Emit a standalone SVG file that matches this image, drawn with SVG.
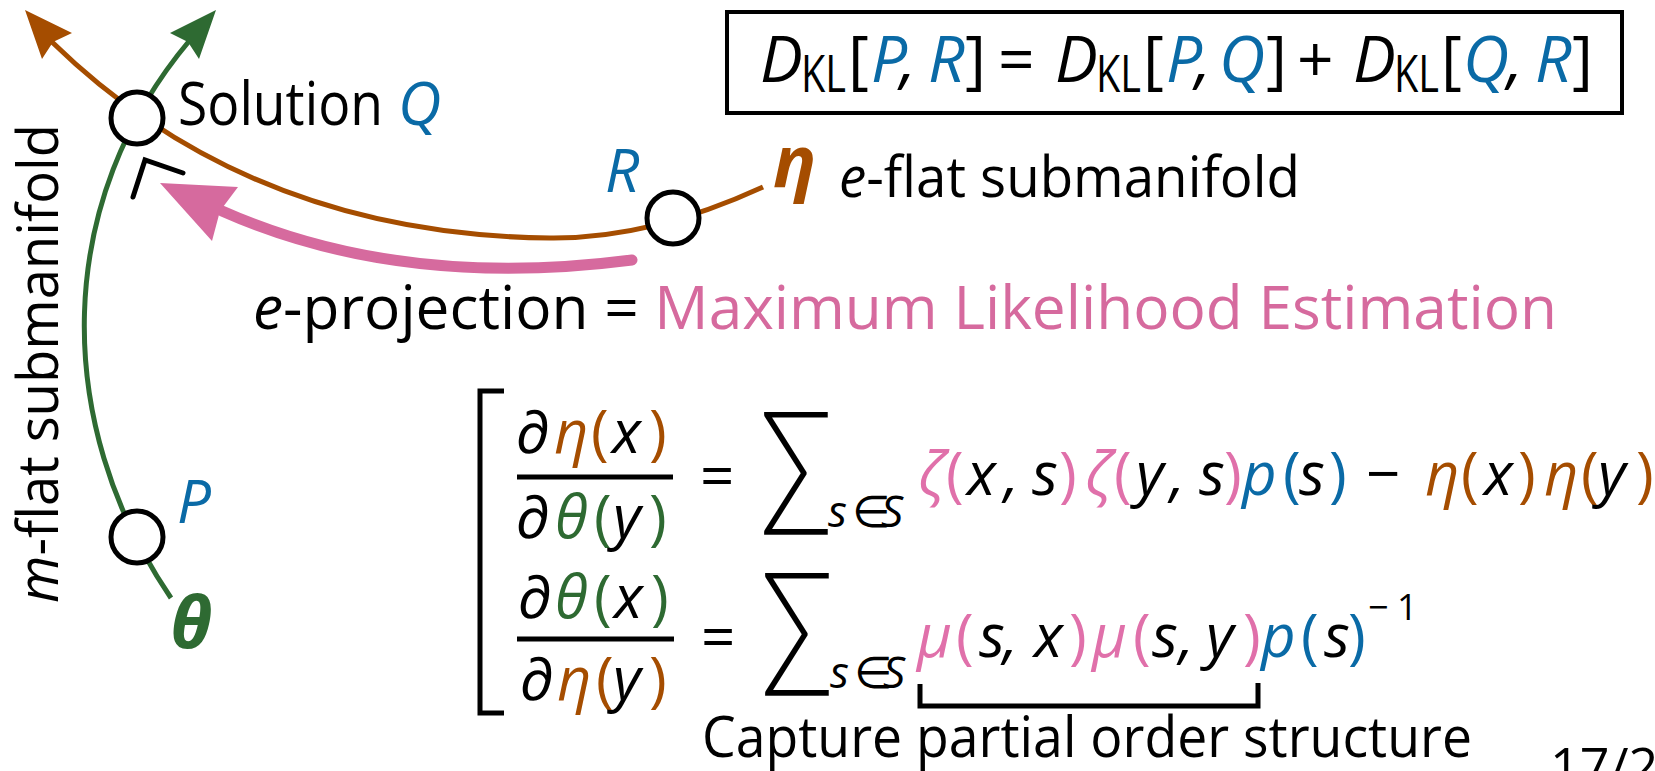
<svg xmlns="http://www.w3.org/2000/svg" width="1655" height="771" viewBox="0 0 1655 771">
<defs>
<style>
text{font-family:"Open Sans","Noto Sans","DejaVu Sans",sans-serif;fill:#000}
.i{font-style:italic}
.b{font-weight:bold}
.blue{fill:#0a6aa6}
.brown{fill:#a54d00}
.green{fill:#2e6a32}
.pink{fill:#e070aa}
.mle{fill:#d66a9e}
.f60{font-size:60px}
.f64{font-size:64px}
.sum{font-family:Lato,"Open Sans","DejaVu Sans",sans-serif;font-weight:300;font-size:139px}
.sub{font-size:44px;font-style:italic}
.ln{fill:none;stroke-width:5}
.node{fill:#fff;stroke:#000;stroke-width:5}
.blk{fill:none;stroke:#000;stroke-width:5}
</style>
</defs>
<rect width="1655" height="771" fill="#fff"/>

<g id="connectors">
  <path id="m-flat-curve" class="ln" stroke="#2e6a32" d="M171,598 C50,420 55,200 190,40"/>
  <polygon fill="#2e6a32" points="216,10 170,33 188,42 199,59"/>
  <path id="e-flat-curve" class="ln" stroke="#a54d00" d="M52,42 Q250,235 550,238 Q650,239 763,187"/>
  <polygon fill="#a54d00" points="25,10 72,33 53,42 42,59"/>
  <path id="e-projection-arrow" fill="none" stroke="#d66a9e" stroke-width="11" stroke-linecap="round" d="M222,211 Q400,290 632,260"/>
  <polygon fill="#d66a9e" points="160,183 238,187 220,211 212,241"/>
  <polyline id="right-angle" class="blk" stroke-linecap="round" points="133,197 145,160 183,173"/>
</g>

<g id="node-Q">
  <circle class="node" cx="137" cy="118" r="26"/>
  <text class="f60" x="178" y="125" font-size="57" textLength="205" lengthAdjust="spacingAndGlyphs">Solution</text>
  <text class="f60 i blue" x="398" y="125">Q</text>
</g>
<g id="node-R">
  <circle class="node" cx="673" cy="218" r="26"/>
  <text class="f60 i blue" x="605" y="192">R</text>
</g>
<g id="node-P">
  <circle class="node" cx="137" cy="537" r="26"/>
  <text class="f60 i blue" x="177" y="523">P</text>
</g>

<g id="labels">
  <text class="b i brown" font-size="72" x="773" y="187">η</text>
  <text font-size="56" x="839" y="197" textLength="461" lengthAdjust="spacingAndGlyphs"><tspan class="i">e</tspan>-flat submanifold</text>
  <text class="b i green" font-size="72" x="170" y="648">θ</text>
  <text font-size="56" transform="translate(58,603) rotate(-90)" x="0" y="0" textLength="479" lengthAdjust="spacingAndGlyphs"><tspan class="i">m</tspan>-flat submanifold</text>
  <text class="f60" x="253" y="329" textLength="1304" lengthAdjust="spacingAndGlyphs"><tspan class="i">e</tspan>-projection = <tspan class="mle">Maximum Likelihood Estimation</tspan></text>
  <text font-size="56" x="702" y="757" textLength="770" lengthAdjust="spacingAndGlyphs">Capture partial order structure</text>
  <text font-size="52" x="1550" y="785">17/20</text>
</g>

<g id="kl-box">
  <rect x="727" y="12" width="895" height="101" fill="none" stroke="#000" stroke-width="4"/>
  <text class="f64" y="82"><tspan class="i" x="760">D</tspan><tspan x="848">[</tspan><tspan class="i blue" x="871">P</tspan><tspan class="i" x="900">,</tspan><tspan class="i blue" x="928">R</tspan><tspan x="965">]</tspan><tspan x="998">=</tspan><tspan class="i" x="1055">D</tspan><tspan x="1143">[</tspan><tspan class="i blue" x="1166">P</tspan><tspan class="i" x="1195">,</tspan><tspan class="i blue" x="1219">Q</tspan><tspan x="1266">]</tspan><tspan x="1297">+</tspan><tspan class="i" x="1353">D</tspan><tspan x="1441">[</tspan><tspan class="i blue" x="1463">Q</tspan><tspan class="i" x="1507">,</tspan><tspan class="i blue" x="1535">R</tspan><tspan x="1572">]</tspan></text>
  <text font-size="52" x="801" y="92" textLength="45" lengthAdjust="spacingAndGlyphs">KL</text>
  <text font-size="52" x="1096" y="92" textLength="45" lengthAdjust="spacingAndGlyphs">KL</text>
  <text font-size="52" x="1394" y="92" textLength="45" lengthAdjust="spacingAndGlyphs">KL</text>
</g>

<g id="formula">
  <path class="blk" stroke-linejoin="miter" d="M504,391 H480 V713 H504"/>
  <line class="blk" x1="517" y1="477" x2="673" y2="477"/>
  <line class="blk" x1="517" y1="639" x2="674" y2="639"/>
  <path class="blk" d="M920,684 V706 H1258 V683"/>

  <text class="f60" y="453"><tspan class="i" x="515">∂</tspan><tspan class="i brown" x="554">η</tspan><tspan class="brown" x="591">(</tspan><tspan class="i" x="612">x</tspan><tspan class="brown" x="649">)</tspan></text>
  <text class="f60" y="538"><tspan class="i" x="515">∂</tspan><tspan class="i green" x="555">θ</tspan><tspan class="green" x="594">(</tspan><tspan class="i" x="613">y</tspan><tspan class="green" x="649">)</tspan></text>
  <text class="f60" y="618"><tspan class="i" x="517">∂</tspan><tspan class="i green" x="555">θ</tspan><tspan class="green" x="594">(</tspan><tspan class="i" x="614">x</tspan><tspan class="green" x="651">)</tspan></text>
  <text class="f60" y="700"><tspan class="i" x="519">∂</tspan><tspan class="i brown" x="557">η</tspan><tspan class="brown" x="596">(</tspan><tspan class="i" x="613">y</tspan><tspan class="brown" x="649">)</tspan></text>
  <text class="f60" x="700" y="497">=</text>
  <text class="f60" x="701" y="658">=</text>

  <text class="sum" transform="translate(760,510) scale(0.77,1)" x="0" y="0">∑</text>
  <text class="sum" transform="translate(761,671) scale(0.77,1)" x="0" y="0">∑</text>
  <text class="sub" y="527"><tspan x="828">s</tspan><tspan x="852" font-style="normal">∈</tspan><tspan x="881">S</tspan></text>
  <text class="sub" y="688"><tspan x="830">s</tspan><tspan x="854" font-style="normal">∈</tspan><tspan x="883">S</tspan></text>

  <text class="f60" y="495"><tspan class="i pink" x="918">ζ</tspan><tspan class="pink" x="946">(</tspan><tspan class="i" x="967">x</tspan><tspan class="i" x="1004">,</tspan><tspan class="i" x="1032">s</tspan><tspan class="pink" x="1059">)</tspan><tspan class="i pink" x="1085">ζ</tspan><tspan class="pink" x="1114">(</tspan><tspan class="i" x="1136">y</tspan><tspan class="i" x="1170">,</tspan><tspan class="i" x="1199">s</tspan><tspan class="pink" x="1224">)</tspan><tspan class="i blue" x="1242">p</tspan><tspan class="blue" x="1283">(</tspan><tspan class="i" x="1299">s</tspan><tspan class="blue" x="1329">)</tspan><tspan x="1366">−</tspan><tspan class="i brown" x="1425">η</tspan><tspan class="brown" x="1461">(</tspan><tspan class="i" x="1484">x</tspan><tspan class="brown" x="1518">)</tspan><tspan class="i brown" x="1544">η</tspan><tspan class="brown" x="1581">(</tspan><tspan class="i" x="1598">y</tspan><tspan class="brown" x="1636">)</tspan></text>

  <text class="f60" y="657"><tspan class="i pink" x="917">μ</tspan><tspan class="pink" x="956">(</tspan><tspan class="i" x="979">s</tspan><tspan class="i" x="1003">,</tspan><tspan class="i" x="1034">x</tspan><tspan class="pink" x="1069">)</tspan><tspan class="i pink" x="1092">μ</tspan><tspan class="pink" x="1133">(</tspan><tspan class="i" x="1152">s</tspan><tspan class="i" x="1179">,</tspan><tspan class="i" x="1206">y</tspan><tspan class="pink" x="1243">)</tspan><tspan class="i blue" x="1261">p</tspan><tspan class="blue" x="1301">(</tspan><tspan class="i" x="1324">s</tspan><tspan class="blue" x="1348">)</tspan></text>
  <text font-size="36" y="620"><tspan x="1368">−</tspan><tspan x="1397">1</tspan></text>
</g>
</svg>
